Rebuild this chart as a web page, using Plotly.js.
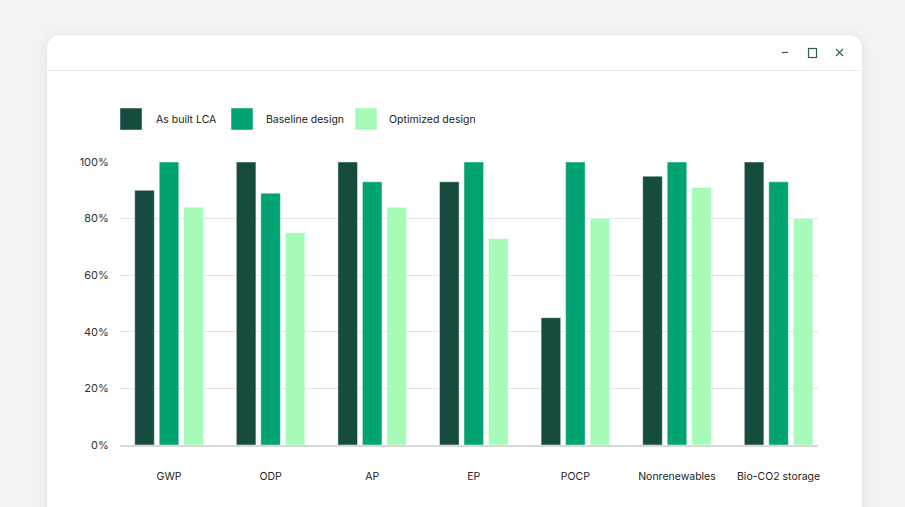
<!DOCTYPE html>
<html>
<head>
<meta charset="utf-8">
<script src="https://cdn.plot.ly/plotly-3.0.1.min.js"></script>
<style>
  html, body { margin:0; padding:0; width:905px; height:507px; overflow:hidden; background:#f3f3f3; font-family: Inter, "Noto Sans", sans-serif; }
  #card { position:absolute; left:47px; top:35px; width:815px; height:520px; background:#fff; border-radius:13px;
          box-shadow: 0 2px 14px rgba(0,0,0,0.07), 0 0 2px rgba(0,0,0,0.05); }
  #sep { position:absolute; left:0; top:35px; width:815px; height:1px; background:#ecece8; }
  #ctrl { position:absolute; left:0; top:0; }
  #chart { position:absolute; left:0; top:0; width:905px; height:507px; }
</style>
</head>
<body>
<div id="card">
  <div id="sep"></div>
  <svg id="ctrl" width="815" height="36">
    <line x1="735" y1="17.5" x2="741" y2="17.5" stroke="#2e5e52" stroke-width="1.2"/>
    <rect x="761.5" y="13.5" width="8" height="9" fill="none" stroke="#2e5e52" stroke-width="1.2"/>
    <line x1="789" y1="14" x2="796" y2="21" stroke="#2e5e52" stroke-width="1.1"/>
    <line x1="796" y1="14" x2="789" y2="21" stroke="#2e5e52" stroke-width="1.1"/>
  </svg>
</div>
<div id="chart"></div>
<script>
const categories = ["GWP", "ODP", "AP", "EP", "POCP", "Nonrenewables", "Bio-CO2 storage"];
const asBuilt    = [90, 100, 100, 93, 45, 95, 100];
const baseline   = [100, 89, 93, 100, 100, 100, 93];
const optimized  = [84, 75, 84, 73, 80, 91, 80];
const seriesNames = ["As built LCA", "Baseline design", "Optimized design"];
const seriesColors = ["#164b3f", "#02a373", "#a6fbb8"];
const yTickVals = [0, 20, 40, 60, 80, 100];
const yTickText = ["0%", "20%", "40%", "60%", "80%", "100%"];

const L = 120, R = 87, T = 162, B = 62, WIDTH = 905, HEIGHT = 507;
const PW = WIDTH - L - R, PH = HEIGHT - T - B;
const PX = x => (x - L) / PW;
const PY = y => (HEIGHT - B - y) / PH;

const seriesValues = [asBuilt, baseline, optimized];
const traces = seriesValues.map((vals, i) => ({
  type: "bar",
  x: categories,
  y: vals,
  name: seriesNames[i],
  marker: { color: seriesColors[i], line: { color: "rgba(255,255,255,0.45)", width: 1 } },
  hoverinfo: "x+y",
  showlegend: false
}));

// custom legend (large squares)
const legendX = [120, 231, 355];
const legendTextX = [155, 265, 388];
const shapes = [];
const annotations = [];
seriesNames.forEach((n, i) => {
  shapes.push({
    type: "rect", xref: "paper", yref: "paper",
    x0: PX(legendX[i]), x1: PX(legendX[i] + 22),
    y0: PY(130), y1: PY(108),
    fillcolor: seriesColors[i], line: { color: "rgba(255,255,255,0.45)", width: 1 }
  });
  annotations.push({
    xref: "paper", yref: "paper", x: PX(legendTextX[i] - 1), y: PY(119),
    xanchor: "left", yanchor: "middle", showarrow: false, text: n,
    font: { family: "Inter, 'Noto Sans', sans-serif", size: 10.5, color: "#222" }
  });
});

const layout = {
  width: WIDTH, height: HEIGHT,
  margin: { l: L, r: R, t: T, b: B, pad: 0 },
  paper_bgcolor: "rgba(0,0,0,0)",
  plot_bgcolor: "rgba(0,0,0,0)",
  barmode: "group",
  bargap: 0.277,
  bargroupgap: 0.2,
  font: { family: "Inter, 'Noto Sans', sans-serif", size: 11, color: "#333" },
  xaxis: {
    type: "category",
    range: [-0.4823, 6.388],
    showgrid: false,
    showline: true, linecolor: "#d8d8d8", linewidth: 2,
    ticks: "outside", ticklen: 20, tickcolor: "rgba(0,0,0,0)",
    tickfont: { size: 10.5, color: "#222" },
    fixedrange: true
  },
  yaxis: {
    range: [0, 100],
    tickvals: yTickVals, ticktext: yTickText,
    showgrid: true, gridcolor: "#e4e4e4", gridwidth: 1,
    zeroline: false, showline: false,
    ticks: "outside", ticklen: 8, tickcolor: "rgba(0,0,0,0)",
    tickfont: { size: 11, color: "#333" },
    fixedrange: true
  },
  shapes: shapes,
  annotations: annotations,
  showlegend: false
};

Plotly.newPlot("chart", traces, layout, { displayModeBar: false, staticPlot: true });
</script>
</body>
</html>
